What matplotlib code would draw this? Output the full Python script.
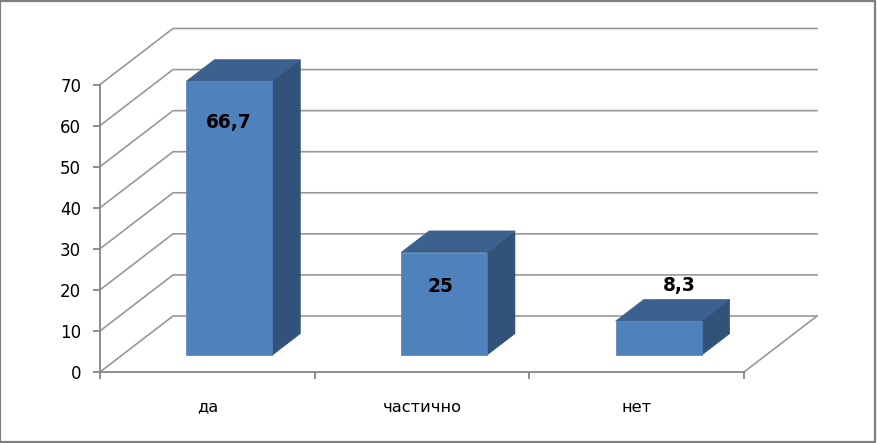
import matplotlib
matplotlib.use('Agg')
import matplotlib.pyplot as plt
from matplotlib.patches import Polygon, Rectangle

plt.rcParams['font.family'] = 'DejaVu Sans'

categories = ['да', 'частично', 'нет']
values = [66.7, 25, 8.3]
value_labels = ['66,7', '25', '8,3']
y_ticks = [0, 10, 20, 30, 40, 50, 60, 70]

W, H = 878, 443
GRID = '#868686'
GRID_LIGHT = '#989898'

fig = plt.figure(figsize=(W / 100, H / 100), dpi=100)
# axes = the front plane of the fake 3d box, set up in pixels
left, right, bottom, top = 100, 744, 372, 84.5
ax = fig.add_axes([left / W, 1 - bottom / H, (right - left) / W, (bottom - top) / H])
ax.set_xlim(0, len(categories))
ax.set_ylim(0, 70)
ax.patch.set_alpha(0)

# depth of the box in pixels, converted to data units
px_x = len(categories) / (right - left)
px_y = 70 / (bottom - top)
depth_x = 73 * px_x
depth_y = 56 * px_y


def proj(x, y, d):
    return x + d * depth_x, y + d * depth_y


for t in y_ticks:
    pts = [proj(0, t, 0), proj(0, t, 1), proj(len(categories), t, 1)]
    ax.plot(*zip(*pts), color=GRID_LIGHT, lw=1.2, clip_on=False, zorder=1)
x_end = [proj(len(categories), 0, 0), proj(len(categories), 0, 1)]
ax.plot(*zip(*x_end), color=GRID_LIGHT, lw=1.2, clip_on=False, zorder=1)

# bars
d0, d1 = 0.30, 0.685
half = 0.2
label_offsets = [(0, -41), (-3, -34), (21, 36)]
for i, v in enumerate(values):
    x0, x1 = i + 0.5 - half, i + 0.5 + half
    front = [proj(x0, 0, d0), proj(x1, 0, d0), proj(x1, v, d0), proj(x0, v, d0)]
    side = [proj(x1, 0, d0), proj(x1, 0, d1), proj(x1, v, d1), proj(x1, v, d0)]
    cap = [proj(x0, v, d0), proj(x1, v, d0), proj(x1, v, d1), proj(x0, v, d1)]
    ax.add_patch(Polygon(side, closed=True, fc='#325279', ec='#325279', lw=0.5, clip_on=False, zorder=3))
    ax.add_patch(Polygon(cap, closed=True, fc='#3b618f', ec='#3b618f', lw=0.5, clip_on=False, zorder=3))
    ax.add_patch(Polygon(front, closed=True, fc='#4f81bd', ec='#4f81bd', lw=0.5, clip_on=False, zorder=4))
    ax.annotate(value_labels[i], xy=proj(i + 0.5, v, d0), xytext=label_offsets[i],
                textcoords='offset pixels', ha='center', va='center',
                fontsize=13.4, fontweight='bold', color='black', zorder=5, annotation_clip=False)

ax.set_xticks(range(len(categories) + 1))
ax.set_xticklabels([])
ax.set_yticks(y_ticks)
ax.tick_params(axis='both', length=5, width=1.3, color=GRID, labelsize=12, labelcolor='black')
ax.tick_params(axis='y', pad=8.5)
for s in ['top', 'right']:
    ax.spines[s].set_visible(False)
for s in ['left', 'bottom']:
    ax.spines[s].set_color(GRID)
    ax.spines[s].set_linewidth(1.3)

for i, c in enumerate(categories):
    ax.annotate(c, xy=(i + 0.5, 0), xytext=(0, -35), textcoords='offset pixels',
                ha='center', va='center', fontsize=11.7, annotation_clip=False)

# chart area border
fig.add_artist(Rectangle((0.5 / W, 1.5 / H), 875 / W, 441 / H, transform=fig.transFigure,
                         fill=False, ec='#808080', lw=1.6))

fig.savefig('out.png', dpi=100)
